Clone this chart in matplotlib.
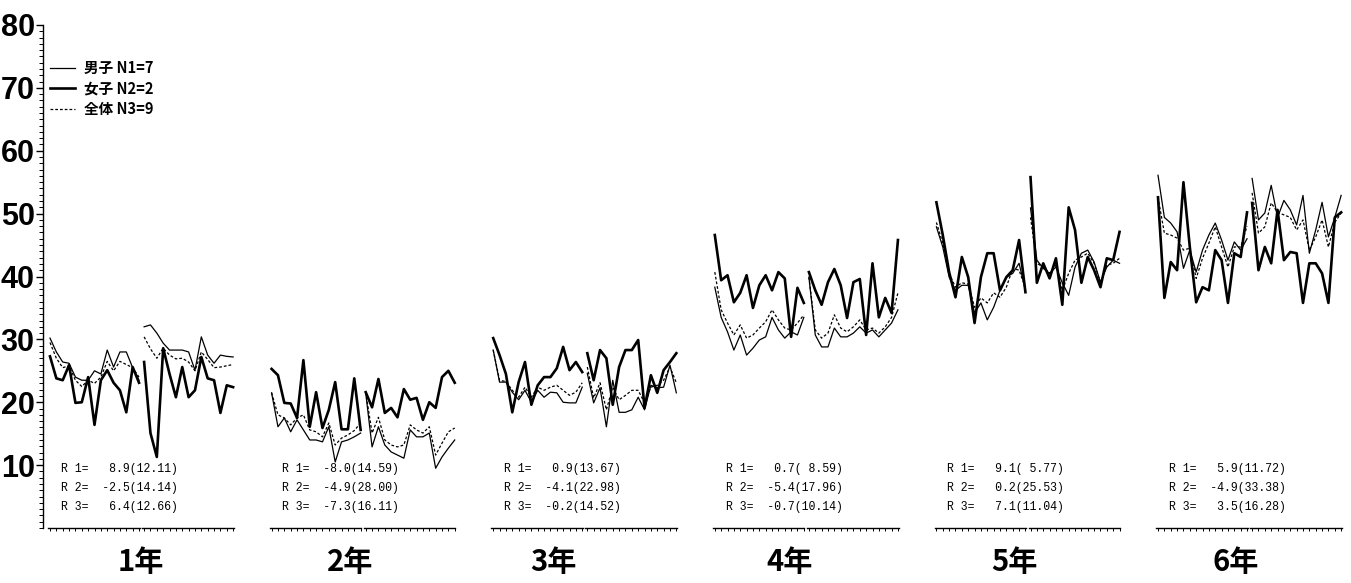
"""Grade-wise profiles (boys / girls / all), two halves per grade, with R summaries."""
import numpy as np
import matplotlib
matplotlib.use("Agg")
import matplotlib.pyplot as plt

grades = ["1年", "2年", "3年", "4年", "5年", "6年"]
series_labels = ["男子 N1=7", "女子 N2=2", "全体 N3=9"]

# 男子 (thin solid): first / second half of each grade
boys_h1 = [
    [30.2, 28.0, 26.4, 26.2, 24.0, 23.5, 23.5, 25.0, 24.5, 28.3, 25.6, 28.0, 28.0, 25.5, 23.5],
    [21.5, 16.1, 17.5, 15.3, 17.2, 15.6, 14.0, 14.0, 13.7, 16.1, 10.5, 13.7, 14.0, 14.5, 15.1],
    [28.3, 23.2, 23.2, 21.6, 20.4, 21.9, 20.0, 21.9, 20.8, 21.6, 21.5, 20.0, 19.9, 19.9, 22.4],
    [38.3, 33.5, 31.2, 28.3, 30.7, 27.5, 28.6, 29.9, 30.4, 33.5, 31.5, 30.2, 31.2, 30.7, 33.5],
    [47.9, 44.7, 39.9, 37.8, 38.6, 38.6, 34.2, 35.8, 33.1, 35.1, 37.8, 39.9, 40.5, 42.1, 37.8],
    [56.1, 49.4, 48.5, 47.1, 41.3, 44.2, 40.7, 44.2, 46.6, 48.5, 45.8, 42.6, 45.5, 44.2, 46.0],
]
boys_h2 = [
    [32.0, 32.3, 31.0, 29.4, 28.3, 28.3, 28.3, 28.0, 25.1, 30.4, 27.5, 26.2, 27.5, 27.3, 27.2],
    [21.5, 12.9, 16.1, 13.2, 12.1, 11.6, 11.1, 15.6, 14.5, 14.5, 15.1, 9.5, 11.3, 12.7, 14.0],
    [24.6, 19.9, 22.3, 16.1, 23.5, 18.4, 18.4, 18.8, 20.8, 18.8, 22.7, 22.3, 22.4, 25.9, 21.5],
    [39.9, 30.7, 28.8, 28.8, 31.8, 30.4, 30.4, 31.0, 32.0, 31.0, 31.5, 30.4, 31.5, 32.6, 34.7],
    [50.9, 42.6, 41.3, 40.5, 41.5, 39.0, 37.0, 41.5, 43.7, 44.2, 42.3, 39.1, 41.5, 42.6, 42.1],
    [55.6, 49.0, 50.1, 54.5, 49.4, 52.1, 50.6, 48.2, 52.9, 43.7, 47.4, 51.8, 46.3, 49.4, 52.9],
]
# 女子 (thick solid)
girls_h1 = [
    [27.3, 23.8, 23.5, 25.9, 19.9, 20.0, 24.0, 16.4, 23.5, 25.1, 23.1, 21.9, 18.4, 25.6, 23.1],
    [25.3, 24.3, 19.9, 19.8, 17.5, 26.7, 16.1, 21.6, 15.9, 18.8, 23.2, 15.7, 15.7, 23.8, 15.6],
    [30.2, 27.5, 24.5, 18.4, 23.2, 26.4, 19.6, 22.7, 24.0, 24.0, 25.4, 28.8, 25.1, 26.4, 24.8],
    [46.6, 39.4, 40.2, 35.9, 37.4, 40.2, 35.0, 38.6, 40.2, 37.8, 40.7, 39.7, 30.4, 38.2, 35.8],
    [51.8, 46.6, 40.7, 36.7, 43.1, 39.9, 32.6, 39.9, 43.7, 43.7, 37.8, 39.9, 41.0, 45.8, 37.5],
    [52.6, 36.6, 42.3, 41.0, 55.0, 44.7, 35.9, 38.3, 37.8, 44.2, 42.6, 35.8, 43.7, 43.1, 50.2],
]
girls_h2 = [
    [26.4, 15.1, 11.3, 28.6, 24.5, 20.8, 25.6, 20.8, 21.9, 27.2, 23.8, 23.5, 18.3, 22.7, 22.4],
    [21.6, 19.2, 23.7, 18.3, 19.1, 17.6, 22.1, 20.4, 20.7, 17.2, 20.0, 19.1, 24.0, 25.0, 23.1],
    [27.8, 23.5, 28.3, 27.0, 19.6, 25.6, 28.3, 28.3, 29.9, 19.1, 24.3, 21.5, 25.1, 26.4, 27.8],
    [40.7, 37.8, 35.5, 39.1, 41.2, 38.6, 33.4, 39.1, 39.6, 30.7, 42.1, 33.5, 36.6, 34.2, 45.8],
    [55.8, 39.0, 42.1, 39.7, 42.9, 35.5, 51.0, 47.4, 39.0, 43.1, 41.0, 38.3, 42.9, 42.6, 47.1],
    [51.7, 41.0, 44.7, 42.1, 50.6, 42.6, 43.9, 43.7, 35.8, 42.1, 42.1, 40.5, 35.8, 49.4, 50.2],
]
# 全体 (dashed)
total_h1 = [
    [29.5, 27.0, 25.5, 25.8, 23.5, 22.5, 23.5, 23.0, 24.0, 26.5, 25.0, 26.5, 26.0, 25.5, 24.0],
    [21.5, 18.0, 17.5, 16.4, 17.5, 18.0, 15.6, 15.3, 14.5, 16.7, 13.2, 14.3, 14.8, 15.5, 16.7],
    [28.3, 23.5, 23.3, 21.9, 20.8, 22.4, 20.8, 22.4, 21.9, 22.4, 22.7, 21.9, 21.1, 21.6, 23.1],
    [40.7, 34.7, 32.6, 30.7, 32.3, 30.2, 30.7, 31.8, 32.8, 34.7, 33.1, 31.8, 31.5, 32.6, 33.9],
    [48.6, 45.3, 40.5, 38.3, 39.0, 38.8, 35.1, 36.6, 35.8, 37.4, 36.7, 38.3, 41.3, 41.0, 38.2],
    [52.6, 46.9, 46.6, 46.1, 44.2, 44.5, 39.7, 42.9, 45.3, 47.9, 44.7, 41.5, 44.7, 44.7, 48.0],
]
total_h2 = [
    [30.4, 28.5, 27.0, 28.6, 27.5, 26.9, 27.0, 26.4, 25.0, 28.0, 26.8, 25.5, 25.6, 25.8, 26.0],
    [21.6, 15.1, 17.6, 14.0, 13.2, 12.9, 13.2, 16.4, 15.6, 15.1, 16.1, 11.6, 13.5, 15.3, 15.9],
    [25.6, 20.7, 23.1, 18.8, 22.4, 20.4, 21.1, 21.9, 21.9, 19.9, 22.4, 22.7, 23.5, 25.6, 23.1],
    [39.9, 31.5, 30.2, 31.0, 33.9, 31.8, 31.2, 32.0, 33.1, 31.5, 31.8, 31.0, 32.0, 33.5, 37.4],
    [49.4, 42.1, 41.5, 40.5, 41.8, 37.8, 40.5, 42.6, 43.1, 43.7, 42.1, 39.0, 41.8, 42.1, 42.9],
    [53.3, 46.9, 47.9, 51.7, 50.2, 49.8, 49.4, 47.4, 49.0, 44.2, 46.3, 49.0, 44.7, 48.6, 50.1],
]

r_texts = [
    ["R 1=   8.9(12.11)", "R 2=  -2.5(14.14)", "R 3=   6.4(12.66)"],
    ["R 1=  -8.0(14.59)", "R 2=  -4.9(28.00)", "R 3=  -7.3(16.11)"],
    ["R 1=   0.9(13.67)", "R 2=  -4.1(22.98)", "R 3=  -0.2(14.52)"],
    ["R 1=   0.7( 8.59)", "R 2=  -5.4(17.96)", "R 3=  -0.7(10.14)"],
    ["R 1=   9.1( 5.77)", "R 2=   0.2(25.53)", "R 3=   7.1(11.04)"],
    ["R 1=   5.9(11.72)", "R 2=  -4.9(33.38)", "R 3=   3.5(16.28)"],
]

# layout (in point-step units)
GROUP_STEP = 34.85
HALF_STEP = 14.8
LABEL_SHIFT = [14.3, 12.3, 9.5, 11.8, 12.3, 12.2]
CJK = ["Noto Sans CJK JP", "DejaVu Sans"]

fig = plt.figure(figsize=(13.51, 5.83), dpi=100)
ax = fig.add_axes([43 / 1351, 55 / 583, 1308 / 1351, 503 / 583])
ax.set_xlim(-1.1, 204.6)
ax.set_ylim(0, 80)

styles = [dict(color="black", lw=0.9),
          dict(color="black", lw=1.9),
          dict(color="black", lw=0.9, ls=(0, (2.2, 1.6)))]

handles = []
for g in range(len(grades)):
    for h, data in enumerate([(boys_h1, girls_h1, total_h1), (boys_h2, girls_h2, total_h2)]):
        x0 = g * GROUP_STEP + h * HALF_STEP
        n = len(data[0][g])
        xs = x0 + np.arange(n)
        for s, series in enumerate(data):
            ln, = ax.plot(xs, series[g], **styles[s])
            if g == 0 and h == 0:
                handles.append(ln)
        # comb-like axis segment under each half (ticks hang down)
        ax.plot([x0 - 0.3, x0 + n - 1 + 0.1], [0, 0], color="black", lw=1.0, clip_on=False)
        ax.vlines(xs, -0.55, 0, color="black", lw=0.7, clip_on=False)
    gx = g * GROUP_STEP
    for k, t in enumerate(r_texts[g]):
        ax.text(gx + 1.7, 9.4 - 3.0 * k, t, fontsize=8.3, family="Liberation Mono",
                ha="left", va="center")
    ax.text(gx + LABEL_SHIFT[g], -5.4, grades[g], fontsize=21, family=CJK,
            fontweight="bold", ha="center", va="center", clip_on=False)

ax.legend(handles, series_labels, loc="upper left", bbox_to_anchor=(50 / 1351, 1 - 60 / 583),
          bbox_transform=fig.transFigure, frameon=False, borderpad=0, borderaxespad=0,
          handlelength=1.7, handletextpad=0.6, labelspacing=0.3,
          prop={"family": CJK, "size": 10.5, "weight": "bold"})

for side in ["top", "right", "bottom"]:
    ax.spines[side].set_visible(False)
ax.spines["left"].set_linewidth(1.0)
ax.set_xticks([])
ax.set_yticks(range(10, 81, 10))
ax.set_yticks(range(0, 81), minor=True)
ax.tick_params(axis="y", which="major", length=5, width=1.0, pad=1)
ax.tick_params(axis="y", which="minor", length=3, width=0.7)
for lab in ax.get_yticklabels():
    lab.set_family(["Liberation Sans Narrow", "Liberation Sans", "DejaVu Sans"])
    lab.set_fontweight("bold")
    lab.set_fontsize(22)

fig.savefig("out.png", dpi=100)
